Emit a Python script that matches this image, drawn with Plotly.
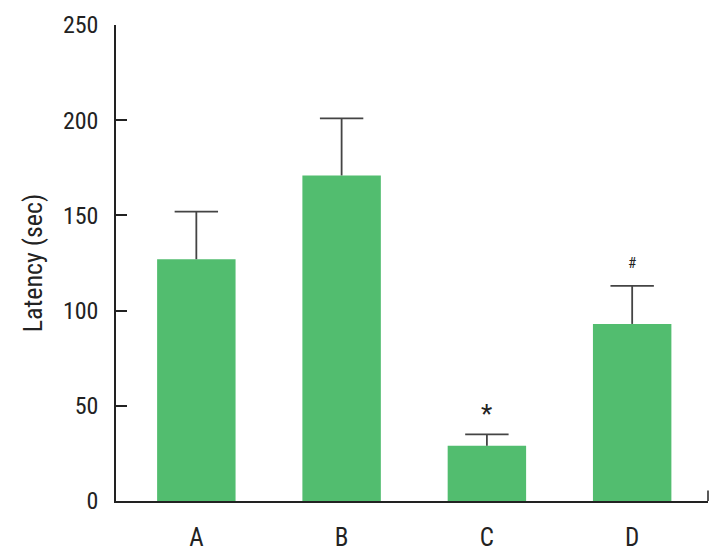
import plotly.graph_objects as go

groups = ["A", "B", "C", "D"]
latency = [127, 171, 29, 93]
latency_sd = [25, 30, 6, 20]
marks = ["", "", "*", "#"]

fnt = "Liberation Sans Narrow, Roboto Condensed, DejaVu Sans Condensed, Arial Narrow, sans-serif"
err_top = [v + e for v, e in zip(latency, latency_sd)]

fig = go.Figure(go.Bar(
    x=groups, y=latency,
    marker=dict(color="#52bd6f", line=dict(width=0)),
    width=0.54,
    error_y=dict(type="data", array=latency_sd, arrayminus=[0] * len(latency_sd),
                 symmetric=False, color="#444444", thickness=1.8, width=0),
))
# caps only on the upper end
fig.add_trace(go.Scatter(
    x=groups, y=err_top, mode="markers",
    marker=dict(symbol="line-ew", size=31, line=dict(color="#444444", width=1.8)),
    hoverinfo="skip",
))

for g, t, m in zip(groups, err_top, marks):
    if m:
        fig.add_annotation(x=g, y=t, text=m, showarrow=False,
                           yanchor="bottom", yshift=3 if m == "*" else 12,
                           font=dict(size=26 if m == "*" else 15, color="#222"))

# small tick at the right end of the x axis
fig.add_shape(type="line", xref="paper", yref="paper", x0=1, x1=1, y0=0, y1=0.022,
              line=dict(color="#222", width=1.5))

# page body has an 8px margin, so the margins are shifted to compensate
fig.update_layout(
    width=724, height=560,
    margin=dict(l=108, r=24, t=17, b=67),
    plot_bgcolor="white", paper_bgcolor="white",
    font=dict(family=fnt, size=24, color="#222"),
    showlegend=False,
)
fig.update_xaxes(range=[-0.553, 3.522], showline=True, linecolor="#222", linewidth=1.5,
                 ticks="", ticklabelstandoff=13, showgrid=False, automargin=False,
                 tickfont=dict(size=25))
fig.update_yaxes(range=[0, 250], dtick=50, showline=True, linecolor="#222", linewidth=1.5,
                 ticks="inside", ticklen=11, tickcolor="#222", tickwidth=1.5,
                 ticklabelstandoff=11, showgrid=False, zeroline=False, automargin=False,
                 title=dict(text="Latency (sec)", standoff=13, font=dict(size=26)))

fig.write_html("out.html")
